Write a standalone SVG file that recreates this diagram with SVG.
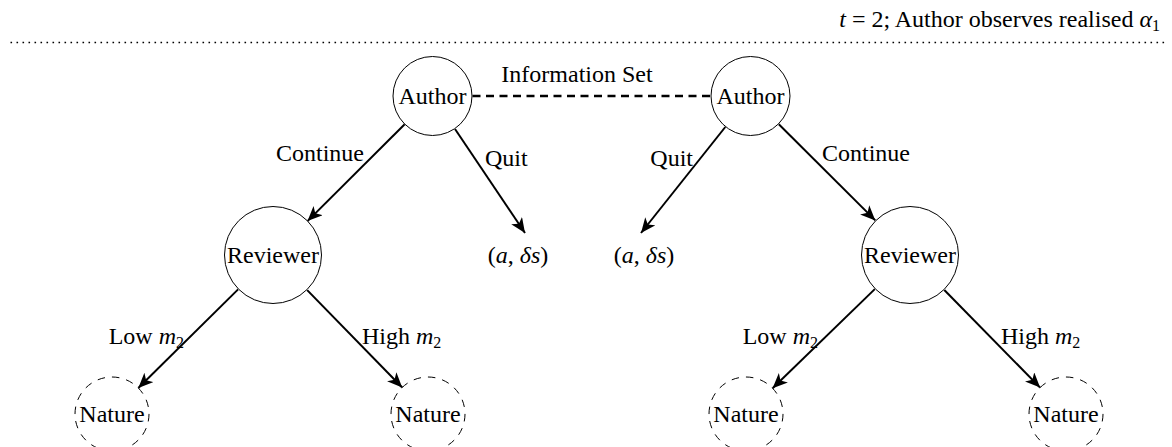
<svg xmlns="http://www.w3.org/2000/svg" width="1172" height="447" viewBox="0 0 1172 447">
  <style>
    text { font-family: "Liberation Serif", "Times New Roman", serif; font-size: 24px; fill: #000; }
    .m { font-style: italic; }
    .sub { font-size: 16px; }
    .node { fill: #fff; stroke: #000; stroke-width: 1; }
    .chance { fill: #fff; stroke: #000; stroke-width: 1; stroke-dasharray: 7.5 7; }
    .edge { stroke: #000; stroke-width: 2; fill: none; marker-end: url(#tip); }
    .mid { text-anchor: middle; }
    .end { text-anchor: end; }
  </style>
  <defs>
    <marker id="tip" markerUnits="userSpaceOnUse" markerWidth="18" markerHeight="14" refX="15" refY="6.5" orient="auto">
      <path d="M0,0 L15,6.5 L0,13 L4,6.5 Z" fill="#000"/>
    </marker>
  </defs>

  <!-- stage header -->
  <g id="header">
    <text x="1160" y="27" class="end"><tspan class="m">t</tspan> = 2; Author observes realised <tspan class="m">α</tspan><tspan class="sub" dy="4">1</tspan></text>
    <line x1="10.5" y1="42.5" x2="1168" y2="42.5" stroke="#000" stroke-width="1.6" stroke-dasharray="1.6 4.4"/>
  </g>

  <!-- connectors -->
  <g id="connectors">
    <line x1="472.5" y1="96" x2="710.5" y2="96" stroke="#000" stroke-width="2.6" stroke-dasharray="8 5.5"/>
    <line class="edge" x1="404.7" y1="124.2" x2="307.5" y2="221.1"/>
    <line class="edge" x1="455" y1="129" x2="525" y2="233"/>
    <line class="edge" x1="725.3" y1="127" x2="641" y2="233"/>
    <line class="edge" x1="778.8" y1="124.2" x2="875.3" y2="220.4"/>
    <line class="edge" x1="238.1" y1="289.4" x2="138.3" y2="388"/>
    <line class="edge" x1="307.2" y1="290.1" x2="402.2" y2="387.5"/>
    <line class="edge" x1="874.8" y1="289.1" x2="772.6" y2="388.2"/>
    <line class="edge" x1="944.3" y1="290" x2="1040.1" y2="387.6"/>
  </g>

  <!-- connector labels -->
  <g id="labels">
    <text x="577" y="82" class="mid">Information Set</text>
    <text x="364" y="161" class="end">Continue</text>
    <text x="485" y="166">Quit</text>
    <text x="693" y="166" class="end">Quit</text>
    <text x="822" y="161">Continue</text>
    <text x="184" y="344" class="end">Low <tspan class="m">m</tspan><tspan class="sub" dy="4">2</tspan></text>
    <text x="362" y="344">High <tspan class="m">m</tspan><tspan class="sub" dy="4">2</tspan></text>
    <text x="818" y="344" class="end">Low <tspan class="m">m</tspan><tspan class="sub" dy="4">2</tspan></text>
    <text x="1001" y="344">High <tspan class="m">m</tspan><tspan class="sub" dy="4">2</tspan></text>
  </g>

  <!-- decision nodes -->
  <g id="author-left">
    <circle class="node" cx="432.5" cy="96" r="39.5"/>
    <text x="432.5" y="104" class="mid">Author</text>
  </g>
  <g id="author-right">
    <circle class="node" cx="750.5" cy="96" r="39.5"/>
    <text x="750.5" y="104" class="mid">Author</text>
  </g>
  <g id="reviewer-left">
    <circle class="node" cx="273" cy="255" r="48.5"/>
    <text x="273" y="263" class="mid" font-size="23">Reviewer</text>
  </g>
  <g id="reviewer-right">
    <circle class="node" cx="910" cy="255" r="48.5"/>
    <text x="910" y="263" class="mid" font-size="23">Reviewer</text>
  </g>

  <!-- terminal payoffs -->
  <g id="payoff-left">
    <text x="518" y="263" class="mid">(<tspan class="m">a</tspan>, <tspan class="m">δs</tspan>)</text>
  </g>
  <g id="payoff-right">
    <text x="644" y="263" class="mid">(<tspan class="m">a</tspan>, <tspan class="m">δs</tspan>)</text>
  </g>

  <!-- chance nodes -->
  <g id="nature-1">
    <circle class="chance" cx="112" cy="414" r="37"/>
    <text x="112" y="422" class="mid">Nature</text>
  </g>
  <g id="nature-2">
    <circle class="chance" cx="428" cy="414" r="37"/>
    <text x="428" y="422" class="mid">Nature</text>
  </g>
  <g id="nature-3">
    <circle class="chance" cx="746" cy="414" r="37"/>
    <text x="746" y="422" class="mid">Nature</text>
  </g>
  <g id="nature-4">
    <circle class="chance" cx="1066" cy="414" r="37"/>
    <text x="1066" y="422" class="mid">Nature</text>
  </g>
</svg>
